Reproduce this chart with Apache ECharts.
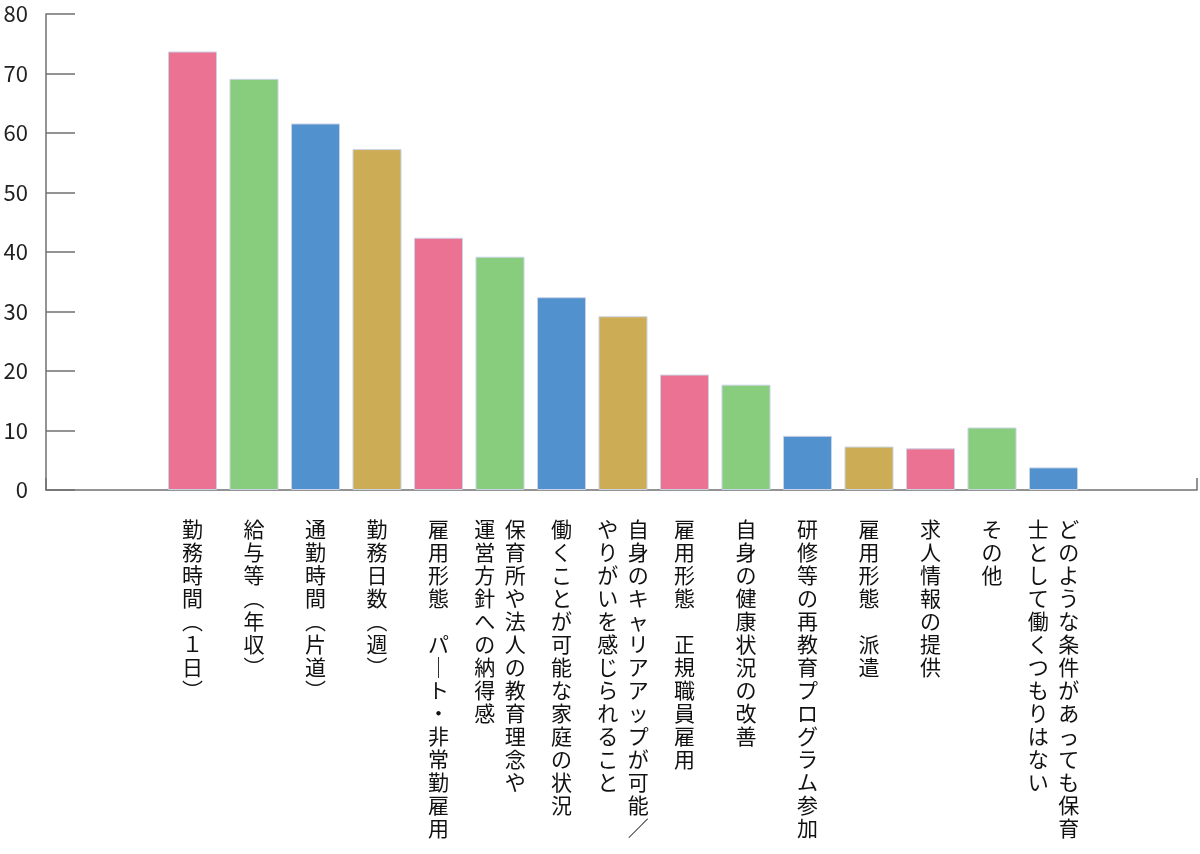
<!DOCTYPE html>
<html>
<head>
<meta charset="utf-8">
<script src="https://cdn.jsdelivr.net/npm/echarts@6/dist/echarts.min.js"></script>
<style>html,body{margin:0;padding:0;background:#fff;}#c{width:1200px;height:854px;}</style>
</head>
<body>
<div id="c"></div>
<script>
// Categories (\n separates vertical columns, first column is rightmost)
var categories = [
  '勤務時間（１日）',
  '給与等（年収）',
  '通勤時間（片道）',
  '勤務日数（週）',
  '雇用形態　パート・非常勤雇用',
  '保育所や法人の教育理念や\n運営方針への納得感',
  '働くことが可能な家庭の状況',
  '自身のキャリアアップが可能／\nやりがいを感じられること',
  '雇用形態　正規職員雇用',
  '自身の健康状況の改善',
  '研修等の再教育プログラム参加',
  '雇用形態　派遣',
  '求人情報の提供',
  'その他',
  'どのような条件があっても保育\n士として働くつもりはない'
];
var values = [73.7, 69.1, 61.6, 57.3, 42.4, 39.2, 32.4, 29.2, 19.4, 17.7, 9.1, 7.3, 7.0, 10.5, 3.8];
var palette = ['#EC7294', '#88CD7E', '#5191CE', '#CCAD56'];
var yTicks = { min: 0, max: 80, interval: 10 };

function vertical(s) {
  var map = { '（': '︵', '）': '︶', 'ー': '｜' };
  var cols = s.split('\n').map(function (c) {
    return Array.from(c).map(function (ch) { return map[ch] || ch; });
  });
  var n = Math.max.apply(null, cols.map(function (c) { return c.length; }));
  var lines = [];
  for (var i = 0; i < n; i++) {
    var row = [];
    for (var j = cols.length - 1; j >= 0; j--) row.push(cols[j][i] || '　');
    lines.push(row.join('  '));
  }
  return lines.join('\n');
}

var chart = echarts.init(document.getElementById('c'));
var axisColor = '#707070';
chart.setOption({
  animation: false,
  backgroundColor: '#fff',
  grid: [
    { left: 46, right: 3, top: 14, bottom: 364 },
    { left: 161.75, width: 922.5, top: 14, bottom: 364 }
  ],
  xAxis: [
    {
      gridIndex: 0, type: 'value', min: 0, max: 1, interval: 1,
      axisLine: { show: true, lineStyle: { color: axisColor, width: 1.5 } },
      axisTick: { show: true, inside: true, length: 12, lineStyle: { color: axisColor, width: 1.5 } },
      axisLabel: { show: false }, splitLine: { show: false }
    },
    {
      gridIndex: 1, type: 'category', data: categories,
      axisLine: { show: false }, axisTick: { show: false },
      axisLabel: {
        interval: 0, margin: 28, color: '#111',
        fontFamily: 'Noto Sans CJK JP', fontSize: 21, lineHeight: 23,
        align: 'center', verticalAlign: 'top',
        formatter: function (v) { return vertical(v); }
      }
    }
  ],
  yAxis: [
    {
      gridIndex: 0, type: 'value', min: yTicks.min, max: yTicks.max, interval: yTicks.interval,
      axisLine: { show: true, lineStyle: { color: axisColor, width: 1.5 } },
      axisTick: { show: true, inside: true, length: 29, lineStyle: { color: axisColor, width: 1.5 } },
      axisLabel: { margin: 18, color: '#222', fontFamily: 'Noto Sans CJK JP', fontSize: 22 },
      splitLine: { show: false }
    },
    {
      gridIndex: 1, type: 'value', min: yTicks.min, max: yTicks.max, show: false
    }
  ],
  series: [{
    type: 'bar', xAxisIndex: 1, yAxisIndex: 1, barWidth: 49,
    data: values.map(function (v, i) {
      return { value: v, itemStyle: { color: palette[i % palette.length] } };
    }),
    itemStyle: { borderColor: '#C9D3E3', borderWidth: 1 }
  }]
});
</script>
</body>
</html>
